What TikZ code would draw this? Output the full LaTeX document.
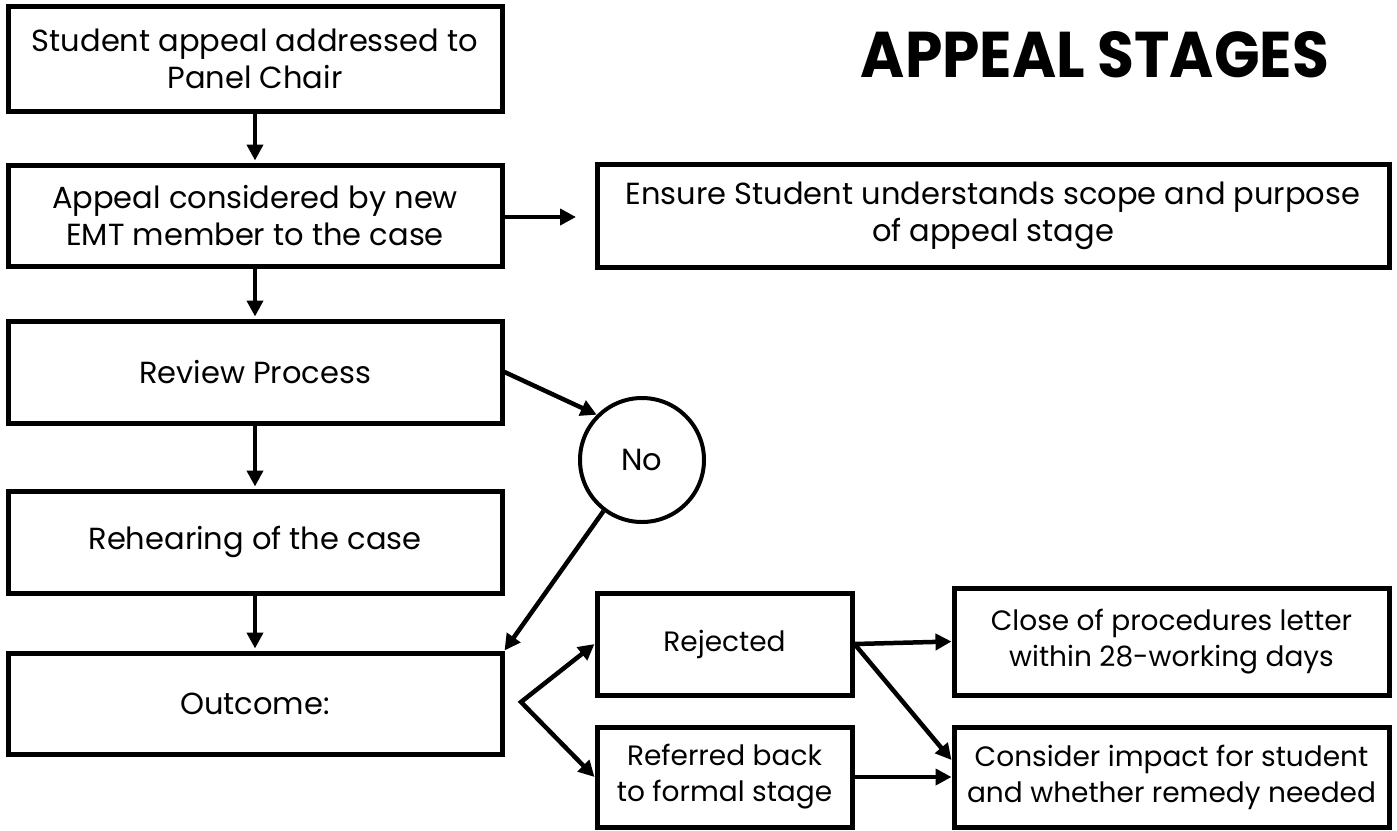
\documentclass[tikz,border=0pt]{standalone}
\usepackage{fontspec}
\setmainfont{Poppins}
\usetikzlibrary{arrows.meta,shapes.geometric}
\tikzset{
  box/.style={draw, line width=5pt, inner sep=0pt, align=center,
    font=\fontsize{30.5}{37}\selectfont},
  smallbox/.style={box, font=\fontsize{28}{36}\selectfont},
  conn/.style={line width=4.5pt, -{Triangle[length=16pt,width=16pt]}},
  conn2/.style={line width=4.5pt, {Triangle[length=16pt,width=16pt]}-{Triangle[length=16pt,width=16pt]}},
}
\begin{document}
\begin{tikzpicture}[x=1pt,y=-1pt]
\useasboundingbox (0,0) rectangle (1397,830);
\node (title) at (1095,55) {\resizebox{468pt}{46pt}{\bfseries APPEAL STAGES}};
\node[box, minimum width=494pt, minimum height=105pt] (b1) at (255,58.5) {Student appeal addressed to\\Panel Chair};
\node[box, minimum width=494pt, minimum height=101pt] (b2) at (255,215.5) {Appeal considered by new\\EMT member to the case};
\node[box, minimum width=494pt, minimum height=102pt] (b3) at (255,372) {Review Process};
\node[box, minimum width=494pt, minimum height=102pt] (b4) at (255,542) {Rehearing of the case};
\node[box, minimum width=494pt, minimum height=101pt] (b5) at (255,703.5) {Outcome:};
\node[box, minimum width=792pt, minimum height=103pt] (ens) at (993,215.5) {Ensure Student understands scope and purpose\\of appeal stage};
\node[circle, draw, line width=4pt, minimum size=124pt, inner sep=0pt, font=\fontsize{30.5}{37}\selectfont] (no) at (642,460) {No};
\node[smallbox, minimum width=255pt, minimum height=102pt] (rej) at (724.5,644) {Rejected};
\node[smallbox, minimum width=255pt, minimum height=100pt] (ref) at (724.5,777) {Referred back\\to formal stage};
\node[smallbox, minimum width=435pt, minimum height=107pt] (clo) at (1171.5,641.5) {Close of procedures letter\\within 28-working days};
\node[smallbox, minimum width=435pt, minimum height=100pt] (con) at (1171.5,777) {Consider impact for student\\and whether remedy needed};
\coordinate (e1) at (576,217);
\coordinate (apex) at (521,702);
\draw[conn, shorten >=2pt] (b1.south) -- (b2.north);
\draw[conn, shorten >=2pt] (b2.south) -- (b3.north);
\draw[conn, shorten >=2pt] (b3.south) -- (b4.north);
\draw[conn, shorten >=2pt] (b4.south) -- (b5.north);
\draw[conn] (b2.east |- e1) -- (e1);
\draw[conn] (b3.east) -- (no.135);
\draw[conn] (no.233) -- (b5.north east);
\draw[conn2] (rej.west) -- (apex) -- (ref.west);
\draw[conn] (rej.east) -- (clo.west);
\draw[conn] (rej.east) -- ([yshift=17pt]con.west);
\draw[conn] (ref.east) -- (con.west);
\end{tikzpicture}
\end{document}
